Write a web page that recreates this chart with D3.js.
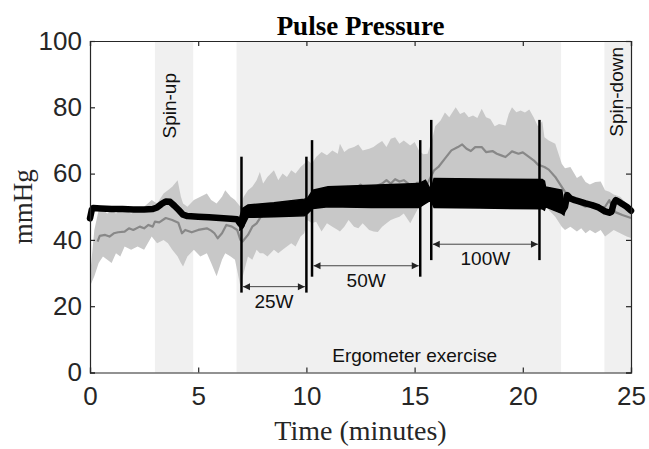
<!DOCTYPE html>
<html>
<head>
<meta charset="utf-8">
<script src="https://cdn.jsdelivr.net/npm/d3@7"></script>
<style>
  html, body { margin: 0; padding: 0; background: #fff; }
  svg { display: block; }
</style>
</head>
<body>
<svg id="chart" width="649" height="449"></svg>
<script>
// ---------------- DATA ----------------
const title = "Pulse Pressure";
const xLabel = "Time (minutes)";
const yLabel = "mmHg";
const xTicks = [0, 5, 10, 15, 20, 25];
const yTicks = [0, 20, 40, 60, 80, 100];

// shaded phases [start, end] in minutes
const phaseNames = ["Spin-up", "Ergometer exercise", "Spin-down"];
const phaseStart = [3.0, 6.77, 23.77];
const phaseEnd   = [4.77, 21.77, 25.0];

// workload stages
const stageNames = ["25W", "50W", "100W"];
const stageStart = [7.0, 10.26, 15.77];
const stageEnd   = [10.0, 15.26, 20.77];
const stageTop    = [65.1, 70.1, 76.2];   // mmHg, top of marker lines
const stageBottom = [24.1, 28.9, 33.9];   // mmHg, bottom of marker lines
const stageArrow  = [25.9, 32.2, 38.7];   // mmHg, level of arrow

// gray band (population range): [t, lower, upper]
const grayBand = [
  [0.0,26,29],[0.2,29,43],[0.4,33,49],[0.6,35,49],[0.8,34,48],[1.0,33,49],[1.2,36,48],[1.4,35,49],
  [1.6,38,49],[1.9,37,48],[2.2,38,49],[2.5,37,50],[2.85,41,52],[3.1,39,51],[3.4,40,54],[3.6,39,55],
  [3.8,37,56],[4.05,35,58],[4.2,33,53],[4.3,32,51],[4.5,35,50],[4.8,37,52],[5.1,35,53],[5.4,36,54],
  [5.6,33,52],[5.85,29,51],[6.1,34,53],[6.25,36,55],[6.5,35,53],[6.7,34,52],[6.95,26,50],[7.1,30,53],
  [7.3,35,55],[7.5,34,56],[7.7,37,58],[7.85,36,60.5],[8.0,36,57],[8.2,35,59],[8.5,37,61],[8.7,36,58],
  [8.9,37,60],[9.1,38,59],[9.3,39,61],[9.5,38,60],[9.73,41,62],[9.9,42,63],[10.05,46,64],[10.25,45,63],
  [10.45,45.5,65],[10.7,42.5,66.5],[10.95,45,65.5],[11.2,44,67],[11.45,43,66],[11.55,42.5,69],[11.75,44,66.5],
  [11.95,46,67.5],[12.2,44,68],[12.4,43.5,68.8],[12.6,45,67],[12.9,43,67.5],[13.1,42.5,68],[13.3,42.4,69],
  [13.5,44,69.8],[13.7,45,68],[13.9,46,70.5],[14.1,46.5,71],[14.3,47,69],[14.5,48,70],[14.8,45,68.5],
  [15.0,47.5,69.5],[15.2,50,67],[15.4,53,65.8],[15.6,55,66],[15.8,56,70],[15.95,55,74.3],[16.2,56,76],
  [16.4,55,78.4],[16.6,56,77],[16.9,55,80],[17.1,56,78],[17.3,55,78.6],[17.5,56,77],[17.7,56,77.5],
  [17.9,55,76.8],[18.1,56,79.6],[18.3,55.5,77],[18.5,55,76.5],[18.7,56,74.3],[18.9,55,75],[19.2,56,74.5],
  [19.35,55,78],[19.5,56,80],[19.7,55,78.5],[19.9,56,79],[20.1,55,78.4],[20.3,54,79.3],[20.5,54,77],
  [20.7,53,74.3],[20.9,52,75.8],[21.0,51,71],[21.2,49,70],[21.5,47,69],[21.8,44,63],[21.95,43,61.6],
  [22.2,44,62],[22.5,42.5,58.7],[22.7,43.5,59.5],[22.9,42,57.5],[23.1,43,56.7],[23.35,42,57.5],
  [23.6,43,57.6],[23.8,41,55],[24.0,42,54.5],[24.2,43,53.7],[24.5,42,53],[24.8,41,51],[25.0,40.6,50]
];

// gray mean line: [t, value]
const grayMean = [
  [0.35,39.5],[0.45,41.2],[0.7,41.5],[0.9,41],[1.1,42],[1.3,42.3],[1.6,42.5],[1.8,43.5],[2.0,43],
  [2.3,44],[2.5,43.5],[2.7,44.5],[2.9,44],[3.0,45.5],[3.2,45.3],[3.5,46.6],[3.8,46],[4.08,45.2],
  [4.25,42],[4.4,43],[4.7,42.3],[5.0,43],[5.4,43.5],[5.6,42.8],[5.75,42],[5.9,40.5],[6.1,42],
  [6.3,44.5],[6.56,44],[6.8,43],[6.95,40],[7.05,39.5],[7.3,41.5],[7.5,44],[7.7,45],[7.9,47],
  [8.1,47.5],[8.3,48.5],[8.5,49.2],[8.65,47.5],[8.8,48.5],[9.0,48.2],[9.4,48.2],[9.55,49],[9.7,50.6],
  [9.85,51],[10.05,48],[10.2,50],[10.4,52],[10.7,54],[11.0,54.2],[11.3,55],[11.6,54.3],[11.9,56],
  [12.05,53.5],[12.2,55],[12.5,56.7],[12.7,55.5],[12.9,56],[13.1,55],[13.3,56.5],[13.5,57],[13.7,58],
  [13.9,57],[14.1,58.3],[14.3,57.6],[14.5,58],[14.8,56.5],[15.0,55],[15.1,57.2],[15.3,57.3],[15.6,57],
  [15.9,61],[16.1,62],[16.4,64.5],[16.7,67],[17.0,68],[17.2,68.8],[17.4,67.5],[17.6,66.8],[17.8,68],
  [18.1,68],[18.3,66.5],[18.6,66.8],[18.8,66],[19.0,65.5],[19.2,65],[19.5,66.7],[19.8,66],[20.0,66.4],
  [20.3,65],[20.5,64],[20.7,62.7],[21.0,62],[21.2,61.2],[21.5,59],[21.8,56],[22.1,53],[22.4,51.6],
  [22.6,51],[22.9,50],[23.1,50.5],[23.35,49.6],[23.6,49.8],[23.8,50],[24.0,52],[24.15,49.5],
  [24.3,48.3],[24.6,47.5],[25.0,46.6]
];

// black measured line: [t, value]
const blackLine = [
  [0,46.5],[0.08,49],[0.15,49.6],[0.5,49.5],[1,49.3],[1.5,49.3],[2,49.2],[2.5,49.2],[2.9,49.3],
  [3.1,49.8],[3.3,50.8],[3.5,51.6],[3.7,51.5],[3.9,50.3],[4.1,49],[4.3,47.6],[4.5,47.2],[5,47],
  [5.5,46.8],[6,46.6],[6.5,46.4],[6.8,46.2],[6.93,45],[7.0,44.5],[7.1,47.5],[7.3,48.7],[8,49],
  [9,49.5],[9.9,50],[10.05,50.3],[10.3,52.3],[11,53],[12,53.2],[13,53.3],[14,53.4],[15.2,53.5],
  [15.5,54.5],[15.75,53.5],[15.9,54],[17,54],[18,54],[19,54],[20,54],[20.9,53.8],[21.0,53.3],
  [21.1,53],[21.5,52],[21.85,49],[21.95,50],[22.05,53.5],[22.2,52.5],[22.4,52],[22.6,51.6],
  [22.9,51],[23.2,50.5],[23.5,49.8],[23.8,48.6],[24.0,48.2],[24.1,48.5],[24.2,51],[24.3,52],
  [24.45,51.5],[24.6,50.8],[24.8,50],[25,48.8]
];

// black beat-to-beat envelope during exercise: [t, lower, upper]
const blackEnvelope = [
  [6.93,43,47],[7.05,43.5,49.5],[7.3,46.8,50.5],[8.5,47,51.2],[9.9,47.3,52.3],[10.05,48,52.5],
  [10.3,49.5,55],[11,50,56],[13,49.8,56.5],[15.2,49.8,57],[15.5,51,58],[15.75,52,55],[15.9,49.8,58.5],
  [18,49.6,58.4],[20.9,49.4,58.2],[21.0,49,57.7],[21.05,50,56],[21.8,48,55],[21.9,47.5,51],[21.95,49,51]
];

// ---------------- CHART ----------------
const svg = d3.select("#chart");
const W = 649, H = 449;
const m = {left: 90, right: 18, top: 41, bottom: 76.5};
const pw = W - m.left - m.right;   // 541
const ph = H - m.top - m.bottom;   // 331.5

const x = d3.scaleLinear().domain([0, 25]).range([m.left, m.left + pw]);
const y = d3.scaleLinear().domain([0, 100]).range([m.top + ph, m.top]);

const axisColor = "#262626";
const sans = "Liberation Sans, Arial, sans-serif";
const serif = "Liberation Serif, Times New Roman, serif";

// phases
svg.append("g").selectAll("rect").data(phaseNames).join("rect")
  .attr("x", (d, i) => x(phaseStart[i]))
  .attr("y", y(100))
  .attr("width", (d, i) => x(phaseEnd[i]) - x(phaseStart[i]))
  .attr("height", y(0) - y(100))
  .attr("fill", "#f0f0f0");

// gray band
svg.append("path").datum(grayBand)
  .attr("fill", "#c8c8c8")
  .attr("d", d3.area().x(d => x(d[0])).y0(d => y(d[1])).y1(d => y(d[2])));

// gray mean
svg.append("path").datum(grayMean)
  .attr("fill", "none").attr("stroke", "#888888").attr("stroke-width", 2.2)
  .attr("stroke-linejoin", "round")
  .attr("d", d3.line().x(d => x(d[0])).y(d => y(d[1])));

// black envelope
svg.append("path").datum(blackEnvelope)
  .attr("fill", "#000").attr("stroke", "#000").attr("stroke-width", 1.5)
  .attr("d", d3.area().x(d => x(d[0])).y0(d => y(d[1])).y1(d => y(d[2])));

// black line
svg.append("path").datum(blackLine)
  .attr("fill", "none").attr("stroke", "#000").attr("stroke-width", 6.5)
  .attr("stroke-linejoin", "round").attr("stroke-linecap", "round")
  .attr("d", d3.line().x(d => x(d[0])).y(d => y(d[1])));

// stage markers
const sg = svg.append("g");
stageNames.forEach((name, i) => {
  [stageStart[i], stageEnd[i]].forEach(t => {
    sg.append("line")
      .attr("x1", x(t)).attr("x2", x(t))
      .attr("y1", y(stageTop[i])).attr("y2", y(stageBottom[i]))
      .attr("stroke", "#000").attr("stroke-width", 2.5);
  });
  const ya = y(stageArrow[i]);
  const xa = x(stageStart[i]) + 1.5, xb = x(stageEnd[i]) - 1.5;
  sg.append("line").attr("x1", xa).attr("x2", xb).attr("y1", ya).attr("y2", ya)
    .attr("stroke", "#444").attr("stroke-width", 1);
  sg.append("path").attr("d", `M${xa},${ya} l7,-3.5 l0,7 Z`).attr("fill", "#222");
  sg.append("path").attr("d", `M${xb},${ya} l-7,-3.5 l0,7 Z`).attr("fill", "#222");
  sg.append("text")
    .attr("x", (x(stageStart[i]) + x(stageEnd[i])) / 2)
    .attr("y", ya + 21)
    .attr("text-anchor", "middle")
    .attr("font-family", sans)
    .attr("font-size", 19).attr("fill", "#111")
    .text(name);
});

// phase labels
svg.append("text")
  .attr("transform", `translate(${x(phaseStart[0] + 0.97)},73) rotate(-90)`)
  .attr("text-anchor", "end")
  .attr("font-family", sans)
  .attr("font-size", 19).attr("fill", "#111")
  .text(phaseNames[0]);
svg.append("text")
  .attr("x", x(15)).attr("y", 361.5)
  .attr("text-anchor", "middle")
  .attr("font-family", sans)
  .attr("font-size", 19).attr("fill", "#111")
  .text(phaseNames[1]);
svg.append("text")
  .attr("transform", `translate(${x(phaseStart[2] + 0.85)},47) rotate(-90)`)
  .attr("text-anchor", "end")
  .attr("font-family", sans)
  .attr("font-size", 19).attr("fill", "#111")
  .text(phaseNames[2]);

// axes (box)
const axB = svg.append("g").attr("transform", `translate(0,${y(0)})`)
  .call(d3.axisBottom(x).tickValues(xTicks).tickSize(-5).tickPadding(14).tickFormat(d3.format("d")));
const axT = svg.append("g").attr("transform", `translate(0,${y(100)})`)
  .call(d3.axisTop(x).tickValues(xTicks).tickSize(-5).tickFormat(""));
const axL = svg.append("g").attr("transform", `translate(${x(0)},0)`)
  .call(d3.axisLeft(y).tickValues(yTicks).tickSize(-5).tickPadding(8).tickFormat(d3.format("d")));
const axR = svg.append("g").attr("transform", `translate(${x(25)},0)`)
  .call(d3.axisRight(y).tickValues(yTicks).tickSize(-5).tickFormat(""));
[axB, axT, axL, axR].forEach(a => {
  a.select(".domain").attr("stroke", axisColor).attr("stroke-width", 1.2);
  a.selectAll(".tick line").attr("stroke", axisColor).attr("stroke-width", 1.2);
  a.selectAll(".tick text")
    .attr("fill", axisColor)
    .attr("font-family", sans)
    .attr("font-size", 26);
});

// titles
svg.append("text")
  .attr("x", x(12.5)).attr("y", 35)
  .attr("text-anchor", "middle")
  .attr("font-family", serif)
  .attr("font-weight", "bold").attr("font-size", 27).attr("fill", "#000")
  .text(title);
svg.append("text")
  .attr("x", x(12.5)).attr("y", 440)
  .attr("text-anchor", "middle")
  .attr("font-family", serif)
  .attr("font-size", 28).attr("fill", "#262626")
  .text(xLabel);
svg.append("text")
  .attr("transform", `translate(32,${y(50)}) rotate(-90)`)
  .attr("text-anchor", "middle")
  .attr("font-family", serif)
  .attr("font-size", 27).attr("fill", "#262626")
  .text(yLabel);
</script>
</body>
</html>
